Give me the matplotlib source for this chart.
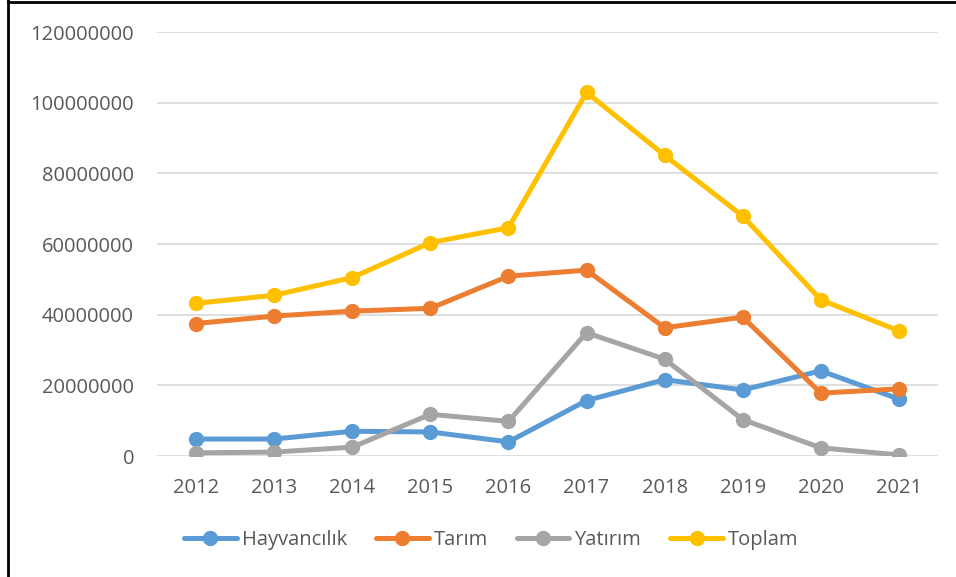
import matplotlib.pyplot as plt
from matplotlib.lines import Line2D

years = ['2012', '2013', '2014', '2015', '2016', '2017', '2018', '2019', '2020', '2021']
hayvancilik = [4.8e6, 4.8e6, 7.0e6, 6.8e6, 4.0e6, 15.7e6, 21.6e6, 18.7e6, 24.1e6, 16.1e6]
tarim = [37.5e6, 39.6e6, 41.0e6, 41.8e6, 50.9e6, 52.6e6, 36.3e6, 39.3e6, 17.8e6, 19.0e6]
yatirim = [0.9e6, 1.1e6, 2.5e6, 11.8e6, 9.8e6, 34.9e6, 27.4e6, 10.3e6, 2.3e6, 0.3e6]
toplam = [43.2e6, 45.5e6, 50.5e6, 60.4e6, 64.6e6, 102.9e6, 85.1e6, 67.9e6, 44.2e6, 35.4e6]

series = [('Hayvancılık', hayvancilik, '#5B9BD5'),
          ('Tarım', tarim, '#ED7D31'),
          ('Yatırım', yatirim, '#A5A5A5'),
          ('Toplam', toplam, '#FFC000')]

plt.rcParams['font.family'] = ['Open Sans', 'DejaVu Sans']

fig = plt.figure(figsize=(9.56, 5.77), dpi=100)
ax = fig.add_axes([157 / 956, 1 - 456 / 577, 781 / 956, 424 / 577])

x = range(len(years))
for name, vals, col in series:
    ax.plot(x, vals, color=col, linewidth=3.6, marker='o', markersize=10,
            label=name, solid_capstyle='round', solid_joinstyle='round')

ax.set_xlim(-0.5, len(years) - 0.5)
ax.set_ylim(0, 120000000)
ax.set_yticks(range(0, 120000001, 20000000))
ax.set_yticklabels([str(v) for v in range(0, 120000001, 20000000)])
ax.set_xticks(list(x))
ax.set_xticklabels(years)
ax.grid(axis='y', color='#D9D9D9', linewidth=1.2)
ax.set_axisbelow(True)
for s in ax.spines.values():
    s.set_visible(False)
ax.tick_params(length=0, labelsize=14.5, colors='#595959')
ax.tick_params(axis='y', pad=16.5)
ax.tick_params(axis='x', pad=16)

ax.legend(loc='center', bbox_to_anchor=(0.428, -0.198), ncol=4, frameon=False,
          fontsize=14.5, labelcolor='#595959', handlelength=2.6, handletextpad=0.25,
          columnspacing=1.45)

fig.add_artist(Line2D([7.5 / 956, 7.5 / 956], [0, 1], transform=fig.transFigure,
                      color='black', linewidth=2))
fig.add_artist(Line2D([7.5 / 956, 1], [1 - 1.5 / 577, 1 - 1.5 / 577],
                      transform=fig.transFigure, color='black', linewidth=2))

fig.savefig('out.png', dpi=100)
